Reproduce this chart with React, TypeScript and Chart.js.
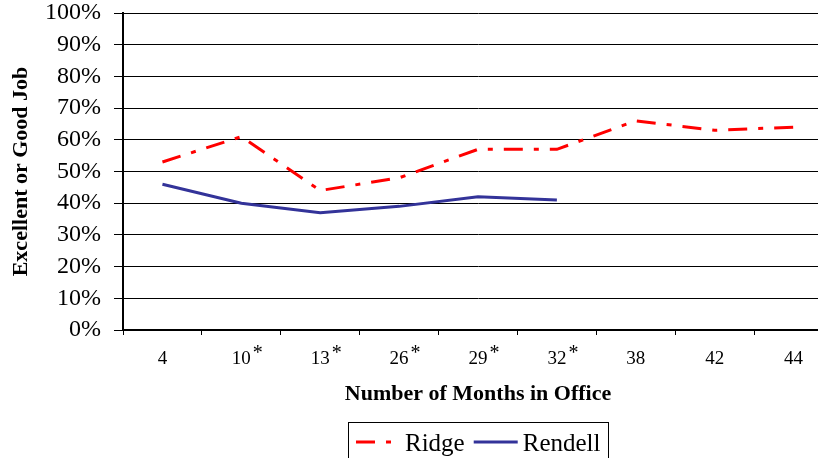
import React, { useEffect, useRef } from "react";
import { Chart, registerables } from "chart.js";

Chart.register(...registerables);

// ---- data ----
const months = ["4", "10", "13", "26", "29", "32", "38", "42", "44"];
const starred = [false, true, true, true, true, true, false, false, false];
const ridge = [53, 61, 44, 48, 57, 57, 66, 63, 64];
const rendell = [46, 40, 37, 39, 42, 41, null, null, null];
const yTickStep = 10;

const FONT = "'Liberation Serif', 'Times New Roman', serif";
const W = 840;
const H = 475;

const asteriskPlugin = {
  id: "asterisks",
  afterDraw(chart: any) {
    const xs = chart.scales.x;
    const ctx = chart.ctx;
    const base = chart.chartArea.bottom;
    ctx.save();
    ctx.fillStyle = "#000";
    months.forEach((m, i) => {
      if (!starred[i]) return;
      ctx.font = `19px ${FONT}`;
      const w = ctx.measureText(m).width;
      const px = xs.getPixelForTick(i) + w / 2 + 2;
      ctx.font = `20px ${FONT}`;
      ctx.textAlign = "left";
      ctx.textBaseline = "alphabetic";
      ctx.fillText("*", px, base + 29);
    });
    ctx.restore();
  },
};

const legendPlugin = {
  id: "boxLegend",
  afterDraw(chart: any) {
    const { ctx, chartArea } = chart;
    ctx.save();
    ctx.font = `25px ${FONT}`;
    const items = chart.data.datasets.map((ds: any) => ({
      label: ds.label,
      color: ds.borderColor,
      dash: ds.borderDash || [],
      width: ds.borderWidth,
      tw: ctx.measureText(ds.label).width,
    }));
    const pad = 8, lineLen = 44, gap1 = 5, gap2 = 9;
    const total =
      pad * 2 +
      items.reduce((s: number, it: any) => s + lineLen + gap1 + it.tw, 0) +
      gap2 * (items.length - 1);
    const cx = (chartArea.left + chartArea.right) / 2;
    const left = Math.round(cx - total / 2);
    const top = Math.round(chartArea.bottom + 92);
    ctx.strokeStyle = "#000";
    ctx.lineWidth = 1;
    ctx.setLineDash([]);
    ctx.strokeRect(left + 0.5, top + 0.5, Math.round(total), 44);
    let x = left + pad;
    const yLine = top + 20;
    items.forEach((it: any, idx: number) => {
      ctx.beginPath();
      ctx.strokeStyle = it.color;
      ctx.lineWidth = it.width;
      ctx.setLineDash(it.dash);
      ctx.moveTo(x, yLine);
      ctx.lineTo(x + lineLen, yLine);
      ctx.stroke();
      ctx.setLineDash([]);
      x += lineLen + gap1;
      ctx.fillStyle = "#000";
      ctx.textAlign = "left";
      ctx.textBaseline = "alphabetic";
      ctx.fillText(it.label, x, top + 29);
      x += it.tw;
      if (idx < items.length - 1) x += gap2;
    });
    ctx.restore();
  },
};

export default function App() {
  const ref = useRef<HTMLCanvasElement | null>(null);

  useEffect(() => {
    document.body.style.margin = "0";
    document.body.style.overflow = "hidden";
    const canvas = ref.current;
    if (!canvas) return;
    const chart = new Chart(canvas, {
      type: "line",
      data: {
        labels: months,
        datasets: [
          {
            label: "Ridge",
            data: ridge,
            borderColor: "#FF0000",
            backgroundColor: "#FF0000",
            borderWidth: 3,
            borderDash: [19, 11, 5, 11],
            pointRadius: 0,
            tension: 0,
            fill: false,
          },
          {
            label: "Rendell",
            data: rendell,
            borderColor: "#333399",
            backgroundColor: "#333399",
            borderWidth: 3,
            pointRadius: 0,
            tension: 0,
            fill: false,
            spanGaps: false,
          },
        ],
      },
      options: {
        responsive: false,
        animation: false,
        devicePixelRatio: 1,
        layout: { padding: { left: 0, right: 7, top: 13, bottom: 60 } },
        plugins: {
          legend: { display: false },
          tooltip: { enabled: false },
        },
        scales: {
          x: {
            type: "category",
            offset: true,
            grid: {
              offset: true,
              drawOnChartArea: false,
              drawTicks: true,
              tickLength: 5,
              color: "#000",
            },
            border: { color: "#000", width: 2 },
            ticks: {
              color: "#000",
              font: { family: FONT, size: 19 },
              padding: 13,
              maxRotation: 0,
              autoSkip: false,
            },
            title: {
              display: true,
              text: "Number of Months in Office",
              color: "#000",
              font: { family: FONT, size: 22, weight: "bold" },
              padding: { top: 0, bottom: 7 },
            },
            afterFit(scale: any) {
              scale.height = 85;
              scale.paddingTop = 0;
              scale.paddingBottom = 0;
            },
          },
          y: {
            min: 0,
            max: 100,
            ticks: {
              stepSize: yTickStep,
              color: "#000",
              font: { family: FONT, size: 24 },
              padding: 13,
              autoSkip: false,
              callback: (v: any) => `${v}%`,
            },
            grid: {
              color: "#000",
              lineWidth: 1,
              tickLength: 9,
              drawTicks: true,
            },
            border: { color: "#000", width: 2 },
            title: {
              display: true,
              text: "Excellent or Good Job",
              color: "#000",
              font: { family: FONT, size: 22, weight: "bold" },
              padding: { top: 8, bottom: 0 },
            },
            afterFit(scale: any) {
              scale.width = 123;
              scale.paddingTop = 0;
              scale.paddingBottom = 0;
            },
          },
        },
      },
      plugins: [asteriskPlugin, legendPlugin],
    });
    return () => chart.destroy();
  }, []);

  return (
    <div
      style={{
        position: "fixed",
        left: 0,
        top: 0,
        width: 818,
        height: 458,
        overflow: "hidden",
        background: "#fff",
      }}
    >
      <canvas ref={ref} width={W} height={H} style={{ width: W, height: H, display: "block" }} />
    </div>
  );
}
